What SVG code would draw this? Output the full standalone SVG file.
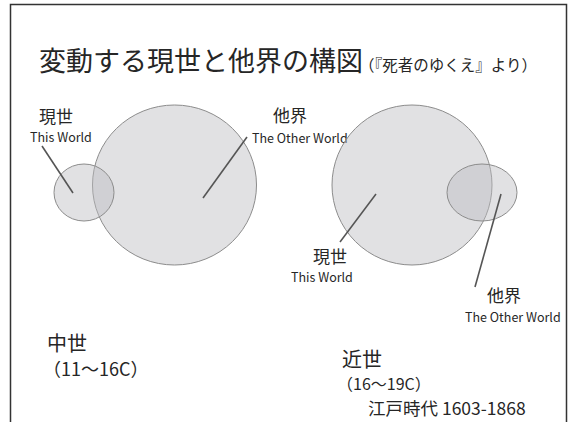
<svg xmlns="http://www.w3.org/2000/svg" width="569" height="422" viewBox="0 0 569 422">
<style>
text{font-family:"Noto Sans CJK JP","Noto Sans",sans-serif;fill:#262626}
.ja{font-size:17px}
.en{font-size:12.5px}
.set{fill:#bcbcc2;fill-opacity:0.45;stroke:#8c8c8c;stroke-width:1}
.lead{stroke:#555;stroke-width:1.6;fill:none}
</style>
<rect width="569" height="422" fill="#fff"/>
<path d="M10.5,422 V4.5 H566.5 V422" fill="none" stroke="#333" stroke-width="1.5"/>
<g id="title">
<text x="39" y="71" font-size="27">変動する現世と他界の構図<tspan font-size="15.5" dx="-4">（『死者のゆくえ』より）</tspan></text>
</g>
<g id="medieval-other-world">
<ellipse class="set" cx="174.5" cy="185" rx="82" ry="80"/>
<text class="ja" x="273" y="122">他界</text>
<text class="en" x="252" y="143">The Other World</text>
</g>
<g id="medieval-this-world">
<ellipse class="set" cx="84" cy="192.5" rx="30" ry="28.5"/>
<text class="ja" x="39" y="123">現世</text>
<text class="en" x="30" y="142">This World</text>
</g>
<g id="early-modern-this-world">
<ellipse class="set" cx="412" cy="185" rx="80" ry="80"/>
<text class="ja" x="313" y="263">現世</text>
<text class="en" x="291" y="282">This World</text>
</g>
<g id="early-modern-other-world">
<ellipse class="set" cx="482" cy="192.5" rx="35" ry="28.5"/>
<text class="ja" x="487" y="302">他界</text>
<text class="en" x="465" y="322">The Other World</text>
</g>
<g id="connectors">
<line class="lead" x1="42" y1="146" x2="73" y2="193"/>
<line class="lead" x1="247" y1="137" x2="203" y2="198"/>
<line class="lead" x1="376" y1="194" x2="340" y2="242"/>
<line class="lead" x1="501" y1="194" x2="475" y2="287"/>
</g>
<g id="medieval-label">
<text x="47" y="351" font-size="20">中世</text>
<text x="43" y="376" font-size="18">（11〜16C）</text>
</g>
<g id="early-modern-label">
<text x="342" y="367" font-size="20">近世</text>
<text x="337" y="390" font-size="16">（16〜19C）</text>
<text x="368" y="415" font-size="17.5">江戸時代 1603-1868</text>
</g>
</svg>
